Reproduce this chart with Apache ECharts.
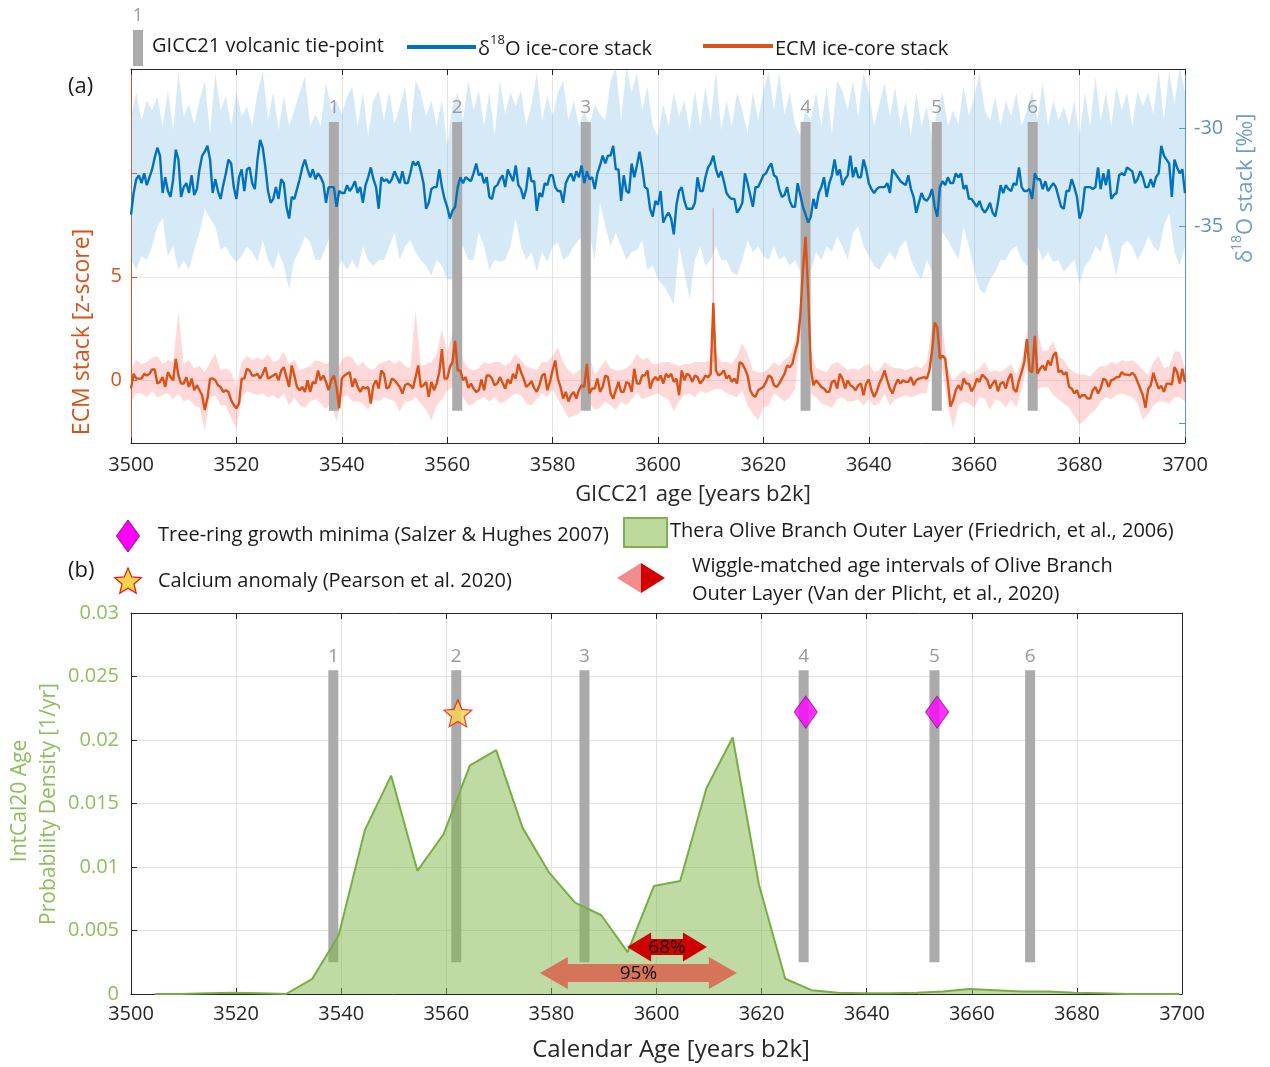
<!DOCTYPE html>
<html>
<head>
<meta charset="utf-8">
<script src="https://cdn.jsdelivr.net/npm/echarts@6/dist/echarts.min.js"></script>
<style>
  html, body { margin: 0; padding: 0; background: #fff; }
  #chart { width: 1270px; height: 1067px; }
</style>
</head>
<body>
<div id="chart"></div>
<script>
// ---------------------------------------------------------------------------
// Data
// ---------------------------------------------------------------------------
const FONT = "'Open Sans', 'Noto Sans', 'DejaVu Sans', sans-serif";

// Ice-core stacks, half-year steps from 3500 to 3700 years b2k
const d18oStack = [
  -34.4, -33.3, -32.6, -32.4, -32.8, -32.3, -32.9, -32.5, -32.1, -31.5,
  -31.0, -31.4, -33.3, -32.5, -33.2, -33.5, -32.6, -31.1, -31.6, -33.5,
  -33.0, -32.8, -33.3, -32.4, -33.4, -33.1, -32.1, -31.4, -31.2, -30.9,
  -31.6, -33.3, -32.6, -33.2, -33.6, -32.9, -32.3, -31.6, -31.8, -33.0,
  -33.6, -32.5, -32.1, -33.2, -32.1, -32.0, -32.8, -33.1, -31.6, -30.6,
  -31.0, -32.0, -33.2, -33.8, -33.6, -33.0, -33.6, -32.6, -32.8, -34.0,
  -34.6, -33.5, -33.6, -33.1, -32.6, -32.0, -31.6, -32.1, -32.5, -32.1,
  -32.6, -32.3, -32.5, -32.8, -33.8, -33.0, -33.0, -33.0, -34.0, -33.2,
  -33.3,
  -33.3, -32.9, -33.2, -33.0, -32.7, -33.3, -33.0, -33.8, -32.9, -32.5,
  -32.0, -32.6, -33.0, -34.1, -32.5, -32.7, -32.6, -32.8, -32.6, -32.2,
  -32.5, -32.8, -32.2, -32.8, -32.8, -32.3, -31.7, -31.9, -31.7, -32.2,
  -32.8, -34.1, -33.8, -33.1, -33.0, -33.0, -32.1, -33.0, -33.6, -34.0,
  -34.6, -34.2, -34.0, -33.0, -32.5, -32.8, -32.5, -32.6, -32.7, -32.3,
  -31.8, -32.4, -32.3, -32.8, -32.5, -33.5, -33.6, -33.0, -32.9, -32.6,
  -32.4, -33.0, -32.1, -32.4, -32.7, -31.9, -32.9, -33.1, -33.6, -33.1,
  -32.0, -32.7, -32.7, -34.2, -33.3, -33.5, -32.8, -32.9, -32.4, -32.4,
  -33.0, -33.2, -33.2, -33.8, -32.8, -32.5, -32.3, -32.7, -32.2, -32.5,
  -31.9, -32.8, -32.2, -32.6, -32.5, -33.1, -32.3, -31.9, -31.4, -31.8,
  -31.4, -31.4, -30.9, -32.1, -32.1, -33.7, -32.4, -33.2, -33.3, -31.8,
  -32.5, -31.9, -31.2, -32.0, -33.0, -33.1, -34.1, -34.5, -33.7, -33.9,
  -33.2, -34.8, -34.5, -34.3, -34.6, -35.4, -33.9, -33.2, -33.0, -33.7,
  -34.1, -34.1, -34.1, -33.8, -32.5, -33.2, -33.2, -32.5, -32.0, -31.8,
  -31.4, -32.1, -32.5, -32.2, -32.7, -33.3, -33.5, -33.6, -33.6, -34.3,
  -34.1, -33.8, -32.3, -32.8, -33.4, -34.0, -33.0, -33.0, -32.7, -32.4,
  -32.3, -32.0, -31.8, -32.4, -32.5, -33.1, -33.5, -33.4, -33.0, -33.7,
  -34.0, -34.0, -32.8, -33.4, -34.0, -34.4, -34.8, -34.5, -33.6, -34.1,
  -33.3, -33.0, -32.5, -33.5, -32.8, -32.4, -31.6, -32.4, -32.1, -32.9,
  -32.6, -32.4, -31.4, -32.5, -32.0, -32.5, -32.5, -31.6, -32.1, -32.8,
  -33.1, -33.3, -33.1, -33.0, -33.0, -33.0, -32.8, -33.3, -32.1, -32.3,
  -32.5, -32.7, -32.8, -32.9, -32.4, -33.1, -33.5, -34.3, -33.8, -33.3,
  -33.6, -33.7, -33.5, -33.1, -34.0, -34.5, -33.0, -32.7, -32.9, -32.5,
  -32.8, -32.8, -32.3, -32.5, -32.3, -33.1, -32.9, -33.6, -33.6, -33.8,
  -34.0, -33.7, -34.1, -34.3, -34.1, -33.8, -34.3, -34.5, -33.8, -32.9,
  -33.3, -32.9, -33.1, -33.2, -32.8, -32.9, -32.0, -33.0, -33.2, -33.2,
  -33.1, -33.6, -32.3, -32.6, -32.6, -33.1, -32.7, -33.2, -33.0, -32.8,
  -33.0, -33.5, -34.0, -34.1, -33.2, -33.2, -32.6, -33.0, -33.5, -34.6,
  -34.2, -33.0, -33.0, -33.0, -33.1, -33.0, -32.0, -33.1, -32.3, -32.9,
  -32.1, -33.6, -33.4, -33.3, -32.4, -32.3, -32.4, -32.0, -32.1, -32.2,
  -32.8, -32.6, -32.2, -32.5, -33.0, -33.0, -32.6, -33.0, -32.5, -32.3,
  -30.9, -31.4, -31.6, -31.8, -33.5, -31.6, -32.0, -32.3, -32.1, -33.3
];

const ecmStack = [
  -0.38, 0.33, 0.1, 0.1, 0.1, 0.33, 0.25, 0.33, 0.54, 0.54,
  -0.14, -0.06, 0.17, -0.3, 0.41, 0.17, 0.02, 1.05, 0.25, -0.14,
  -0.14, 0.17, -0.3, 0.1, -0.46, -0.22, -0.46, -0.7, -1.41, -0.86,
  0.1, 0.1, 0.02, -0.22, -0.3, -0.54, -0.46, -0.54, -0.94, -1.17,
  -1.33, -1.1, 0.1, 0.1, 0.57, 0.49, 0.25, 0.25, 0.33, 0.1,
  0.33, 0.65, 0.1, 0.17, 0.25, 0.33, 0.02, 0.49, 0.65, 0.17,
  -0.3, 0.73, 0.25, -0.3, -0.46, -0.3, -0.54, 0.02, -0.54, -0.06,
  -0.14, 0.49, 0.02, 0.25, -0.06, -0.46, 0.02, 0.25, -0.3, -1.33,
  0.1,
  0.25, 0.33, 0.41, -0.3, 0.1, -0.3, -0.54, -0.3, -0.38, -0.3,
  -1.1, -0.22, 0.02, -0.38, 0.49, 0.33, -0.38, -0.3, 0.1, 0.02,
  -0.14, -0.3, -0.62, -0.22, -0.14, -0.22, -0.38, 0.17, 0.73, -0.3,
  -0.22, -0.06, -0.78, -0.06, -0.46, -0.14, 0.41, 1.52, 0.1, 0.1,
  0.65, 0.89, 1.92, 0.49, 0.49, 0.02, 0.17, -0.35, -0.14, -0.38,
  -0.54, -0.46, 0.06, -0.46, 0.25, 0.25, 0.1, -0.22, -0.14, 0.17,
  -0.1, -0.38, 0.06, -0.14, 0.33, 0.1, 0.81, 0.41, 0.1, -0.3,
  -0.19, -0.03, -0.35, -0.54, -0.22, 0.25, 0.33, -0.46, -0.06, 0.5,
  0.97, 0.1, -0.3, -0.86, -0.54, -1.0, -0.7, -0.54, -0.86, -0.46,
  -0.22, -0.3, 0.81, -0.62, -0.38, -0.38, 0.1, -0.54, -0.3, 0.25,
  0.17, -0.62, -0.86, -0.46, -0.06, -0.54, -0.54, -0.06, -0.14, -0.54,
  0.57, -0.14, -0.14, 0.25, 0.25, 0.49, -0.38, 0.02, 0.17, 0.02,
  0.25, -0.14, 0.33, 0.17, 0.33, -0.06, 0.1, -0.7, 0.49, 0.02,
  0.33, 0.25, -0.06, 0.25, 0.17, -0.14, 0.02, 0.25, 0.17, 0.33,
  3.75, 0.49, 0.25, 0.33, 0.49, 0.1, 0.25, -0.06, 0.1, -0.14,
  0.89, 0.81, 0.57, 0.25, -0.46, -0.7, -0.78, -0.46, -0.38, -0.3,
  -0.06, 0.25, 0.17, -0.22, -0.3, -0.14, 0.1, 0.33, 0.73, 0.65,
  0.81, 1.37, 1.84, 3.11, 5.33, 6.92, 4.22, 0.57, -0.22, 0.02,
  -0.14, -0.3, -0.38, -0.54, -0.54, -0.06, 0.02, -0.38, 0.33, 0.1,
  -0.38, 0.02, -0.22, -0.3, -0.46, -0.22, -0.14, -0.7, -0.14, 0.06,
  -0.46, -0.78, -0.54, -0.14, 0.13, 0.49, 0.02, -0.38, -0.62, -0.22,
  0.06, -0.14, 0.02, -0.06, -0.06, 0.17, -0.22, 0.02, 0.1, 0.13,
  0.17, 0.1, 0.49, 1.44, 2.79, 2.56, 1.05, 1.21, 1.05, -0.06,
  -1.25, -0.94, -0.46, -0.22, -0.46, 0.1, -0.14, -0.14, -0.51, -0.3,
  0.1, -0.06, 0.29, 0.17, 0.02, -0.38, -0.14, 0.02, -0.51, -0.14,
  -0.06, -0.38, 0.1, 0.33, -0.41, -0.54, 0.02, 0.41, 0.89, 2.0,
  0.49, 0.41, 2.16, 0.33, 0.57, 0.73, 0.49, 0.97, 0.73, 1.21,
  1.37, 0.41, 0.49, 0.29, 0.41, -0.3, -0.38, -0.62, -0.46, -0.83,
  -0.7, -0.7, -0.86, -0.86, -0.46, -0.3, -0.62, -0.38, 0.1, 0.02,
  -0.3, 0.02, 0.06, 0.17, 0.17, 0.41, 0.29, 0.29, 0.25, 0.38,
  0.25, -0.06, -0.38, -0.7, -1.3, -0.41, -0.22, 0.38, -0.03, -0.38,
  -0.25, -0.54, -0.14, -0.14, -0.19, 0.65, 0.41, -0.14, 0.57, -0.06
];

// Uncertainty envelopes, one value per year from 3500 to 3700
const d18oBandHigh = [
  -29.4, -28.2, -29.6, -28.6, -29.1, -28.4, -29.9, -28.1, -30.1, -27.2,
  -29.4, -28.8, -29.8, -28.6, -27.6, -30.3, -27.2, -29.1, -28.4, -29.9,
  -28.2, -29.4, -28.9, -29.9, -28.2, -27.1, -29.6, -28.2, -30.1, -28.4,
  -29.9, -29.1, -28.2, -27.4, -29.9, -29.3, -29.9, -27.7, -29.1, -28.6,
  -29.3,
  -28.4, -27.9, -29.9, -28.2, -30.4, -28.6, -28.1, -29.6, -28.2, -29.8,
  -28.9, -27.9, -30.3, -27.6, -28.2, -29.4, -28.6, -29.9, -28.6, -30.9,
  -28.9, -28.2, -29.6, -27.6, -29.1, -28.1, -29.9, -28.2, -30.4, -27.6,
  -29.3, -28.2, -28.9, -28.1, -29.9, -28.8, -27.2, -29.6, -28.4, -29.4,
  -28.2, -27.6, -29.6, -28.6, -29.9, -29.1, -29.9, -28.8, -29.3, -29.6,
  -27.6, -26.9, -29.6, -26.9, -28.2, -27.2, -29.1, -27.9, -29.9, -30.4,
  -28.8, -29.9, -28.2, -29.4, -28.6, -30.1, -28.1, -29.9, -27.9, -29.6,
  -27.1, -30.1, -28.6, -29.9, -28.2, -29.1, -30.3, -28.2, -29.6, -28.1,
  -27.1, -29.1, -27.2, -29.3, -28.2, -29.8, -30.4, -29.1, -29.6, -28.2,
  -29.9, -27.9, -30.3, -27.6, -28.1, -29.1, -27.6, -29.4, -27.2, -28.2,
  -29.9, -28.8, -27.7, -29.4, -27.9, -29.9, -28.6, -30.4, -28.2, -29.9,
  -28.9, -30.6, -29.1, -28.2, -29.9, -29.1, -29.8, -27.9, -29.4, -28.4,
  -27.2, -29.1, -29.6, -28.4, -29.9, -28.6, -29.4, -28.2, -29.9, -29.1,
  -28.1, -29.6, -27.7, -29.9, -28.6, -29.6, -28.9, -29.9, -28.6, -30.4,
  -28.2, -29.9, -27.4, -29.6, -28.2, -29.9, -27.9, -29.1, -28.2, -29.9,
  -28.1, -28.9, -28.2, -29.3, -27.1, -29.6, -27.1, -28.8, -26.9, -28.2
];
const d18oBandLow = [
  -36.7, -37.2, -36.5, -36.7, -36.0, -35.0, -34.6, -36.5, -36.0, -37.2,
  -36.7, -37.2, -36.2, -35.3, -34.1, -34.6, -35.0, -36.2, -36.0, -36.5,
  -36.8, -36.5, -36.0, -36.3, -36.8, -35.7, -36.7, -37.2, -36.3, -37.0,
  -38.2, -36.7, -36.2, -35.5, -35.8, -36.7, -36.7, -36.0, -35.3, -37.3,
  -36.7,
  -37.2, -36.7, -37.2, -36.0, -36.7, -37.0, -36.7, -36.7, -36.0, -35.3,
  -36.7, -36.0, -35.7, -36.3, -36.7, -37.0, -37.5, -36.7, -37.0, -37.7,
  -37.7, -36.3, -36.0, -36.7, -36.7, -35.3, -36.0, -37.2, -36.7, -36.8,
  -36.7, -36.0, -34.6, -36.0, -36.7, -36.3, -37.3, -36.3, -36.8, -36.0,
  -35.8, -36.7, -36.5, -36.0, -35.7, -35.3, -35.3, -36.7, -33.8, -35.0,
  -36.0, -35.3, -36.0, -36.7, -36.3, -36.2, -35.7, -37.2, -37.0, -37.7,
  -38.0, -38.4, -39.0, -36.0, -37.3, -38.7, -36.7, -36.0, -37.0, -36.7,
  -36.0, -36.7, -36.7, -37.3, -37.5, -36.7, -35.7, -36.3, -36.0, -36.5,
  -36.7, -36.0, -36.7, -36.5, -37.0, -36.7, -37.3, -37.7, -37.3, -36.3,
  -36.7, -36.0, -36.3, -35.5, -36.0, -36.7, -35.3, -35.0, -36.0, -36.5,
  -37.0, -37.2, -36.7, -36.3, -36.7, -36.0, -35.7, -36.7, -37.3, -37.7,
  -36.7, -37.3, -36.3, -35.3, -35.7, -36.2, -36.7, -35.0, -36.0, -37.2,
  -38.2, -38.4, -37.7, -37.3, -36.7, -36.7, -36.2, -36.0, -36.7, -37.0,
  -36.7, -36.0, -36.7, -36.3, -36.8, -36.7, -37.3, -37.0, -36.7, -37.9,
  -37.0, -36.7, -36.0, -36.3, -35.3, -36.3, -37.5, -36.0, -35.7, -36.0,
  -36.7, -36.2, -35.5, -36.0, -36.3, -35.0, -34.3, -36.3, -37.0, -36.0
];
const ecmBandHigh = [
  0.6, 1.0, 0.8, 0.9, 1.1, 1.2, 0.8, 1.0, 0.9, 3.3,
  0.8, 1.0, 0.6, 0.7, 0.4, 0.9, 1.3, 0.5, 0.6, 0.4,
  -0.3, 0.9, 1.2, 1.0, 1.1, 1.0, 1.3, 0.9, 1.0, 1.4,
  0.8, 1.0, 0.5, 0.6, 0.7, 1.0, 0.9, 0.8, 0.9, 0.5,
  1.0,
  1.2, 1.1, 0.7, 0.9, 0.6, 0.5, 0.8, 0.9, 1.0, 0.8,
  1.0, 0.7, 0.6, 3.4, 0.7, 0.8, 0.9, 1.3, 2.5, 1.4,
  2.3, 1.8, 1.0, 0.6, 0.5, 0.6, 0.9, 0.8, 0.9, 0.9,
  0.7, 0.9, 1.3, 1.0, 0.7, 0.6, 0.5, 0.9, 0.9, 1.2,
  1.6, 0.9, 0.5, 0.3, 0.5, 0.6, 1.2, 0.3, 0.6, 1.0,
  0.6, 0.5, 0.5, 0.6, 0.8, 1.3, 1.0, 1.1, 0.8, 0.8,
  0.9, 0.9, 0.8, 0.7, 0.8, 0.8, 0.9, 0.9, 0.9, 1.0,
  1.3, 0.9, 0.9, 0.8, 1.2, 1.8, 1.3, 0.5, 0.4, 0.4,
  0.6, 0.9, 0.7, 1.0, 1.2, 1.9, 3.5, 7.3, 1.5, 0.6,
  0.5, 0.4, 0.8, 0.9, 0.7, 0.5, 0.6, 0.5, 0.7, 0.8,
  0.4, 0.5, 0.9, 0.7, 0.6, 0.6, 0.5, 0.6, 0.7, 0.6,
  0.9, 2.6, 3.1, 2.5, 0.6, 0.0, 0.3, 0.5, 0.3, 0.4,
  0.6, 0.9, 0.4, 0.5, 0.4, 0.6, 0.8, 0.3, 0.9, 2.3,
  2.9, 2.4, 1.4, 1.5, 1.9, 1.2, 1.0, 0.6, 0.4, 0.3,
  0.3, 0.2, 0.5, 0.7, 0.7, 0.9, 0.8, 1.0, 0.9, 1.0,
  0.8, 0.5, 0.3, 0.9, 1.2, 0.6, 0.7, 1.4, 1.4, 0.6
];
const ecmBandLow = [
  -1.0, -0.6, -0.6, -0.8, -0.5, -0.8, -0.7, -0.6, -0.9, -0.6,
  -1.0, -0.9, -1.2, -1.3, -2.4, -0.8, -0.7, -1.2, -1.2, -1.8,
  -2.3, -0.8, -0.5, -0.6, -0.7, -0.6, -0.8, -0.7, -0.9, -0.6,
  -1.2, -0.8, -1.2, -1.3, -1.0, -0.9, -1.1, -1.4, -1.0, -2.0,
  -0.8,
  -0.7, -1.0, -1.0, -1.1, -1.4, -0.9, -1.0, -0.8, -0.9, -1.0,
  -1.5, -1.0, -1.0, -0.8, -1.1, -1.4, -1.9, -1.2, -0.9, -0.5,
  -0.3, -0.5, -0.8, -1.2, -1.1, -0.9, -0.8, -1.0, -0.8, -1.1,
  -1.0, -0.8, -0.6, -0.7, -1.1, -1.2, -0.9, -0.6, -0.8, -0.4,
  -0.9, -1.3, -1.8, -1.7, -1.6, -1.2, -1.1, -1.4, -1.3, -1.0,
  -1.2, -1.4, -1.0, -1.2, -0.9, -0.6, -0.9, -0.8, -0.7, -0.6,
  -0.8, -0.9, -1.5, -1.0, -0.7, -0.6, -0.8, -0.5, -0.6, -0.5,
  -0.4, -0.4, -0.6, -0.7, -0.8, -0.5, -1.2, -1.6, -1.9, -1.3,
  -1.2, -0.6, -0.8, -1.0, -0.8, -0.4, 2.0, 4.5, -0.6, -0.8,
  -1.1, -1.2, -1.3, -0.9, -0.8, -1.0, -1.0, -0.9, -1.2, -0.9,
  -1.2, -1.1, -0.6, -1.2, -0.9, -0.8, -0.7, -0.8, -0.7, -0.6,
  -0.6, 0.9, 1.6, 0.4, -1.2, -2.3, -1.2, -1.0, -1.1, -1.3,
  -0.8, -0.9, -1.4, -0.9, -1.0, -1.3, -0.9, -1.3, -0.4, 0.7,
  -0.2, -0.4, -0.3, -0.3, -0.7, -0.9, -1.1, -1.3, -1.7, -2.1,
  -1.9, -1.6, -1.4, -1.0, -0.8, -0.9, -0.7, -0.6, -0.7, -0.8,
  -1.1, -1.9, -1.6, -1.2, -1.0, -1.0, -1.1, -0.8, -0.8, -1.0
];
// Narrow single-sample excursion of the ECM envelope
const ecmSpikeAge = 3610.5;
const ecmSpikeRange = [0.9, 8.3];

// GICC21 volcanic tie-points
const tieAges = [3538.5, 3561.9, 3586.3, 3628.0, 3652.9, 3671.1];
const tieLabels = ['1', '2', '3', '4', '5', '6'];

// IntCal20 age probability density of the olive branch outer layer
const densityAges = [
  3504.5, 3509.5, 3514.5, 3519.5, 3524.5, 3529.5, 3534.5, 3539.5, 3544.5, 3549.5,
  3554.5, 3559.5, 3564.5, 3569.5, 3574.5, 3579.5, 3584.5, 3589.5, 3594.5, 3599.5,
  3604.5, 3609.5, 3614.5, 3619.5, 3624.5, 3629.5, 3634.5, 3639.5, 3644.5, 3649.5,
  3654.5, 3659.5, 3664.5, 3669.5, 3674.5, 3679.5, 3684.5, 3689.5, 3694.5, 3699.5
];
const densityValues = [
  0, 0, 0.00005, 0.0001, 0.00005, 0, 0.0012, 0.0046, 0.0129, 0.0172,
  0.0097, 0.0126, 0.018, 0.0192, 0.0131, 0.0096, 0.0072, 0.0062, 0.0033, 0.0085,
  0.0089, 0.0162, 0.0202, 0.0086, 0.0012, 0.0003, 0.0001, 0.00005, 0.00005, 0.0001,
  0.0002, 0.0004, 0.0003, 0.0002, 0.0002, 0.0001, 0.00005, 0, 0, 0
];

// Independent age markers
const treeRingAges = [3628.4, 3653.4];
const treeRingLevel = 0.0222;
const calciumAge = 3562.2;
const calciumLevel = 0.0221;

// Wiggle-matched age intervals [from, to, plotting level]
const interval95 = [3577.8, 3615.3, 0.00165];
const interval68 = [3594.4, 3609.6, 0.0037];

// Tick labels shown on the axes
const ecmTickLabels = [0, 5];
const d18oTickLabels = [-35, -30];

// ---------------------------------------------------------------------------
// Helpers
// ---------------------------------------------------------------------------
const halfYearAges = [];
for (let i = 0; i < d18oStack.length; i++) halfYearAges.push(3500 + i * 0.5);
const yearAges = [];
for (let i = 0; i < d18oBandHigh.length; i++) yearAges.push(3500 + i);

const pairs = (xs, ys) => xs.map((x, i) => [x, ys[i]]);

function bandSeries(xIdx, yIdx, ages, low, high, fill) {
  return {
    type: 'custom', xAxisIndex: xIdx, yAxisIndex: yIdx, z: 1, silent: true,
    data: [[ages[0], low[0]]],
    renderItem: (params, api) => {
      const pts = [];
      for (let i = 0; i < ages.length; i++) pts.push(api.coord([ages[i], high[i]]));
      for (let i = ages.length - 1; i >= 0; i--) pts.push(api.coord([ages[i], low[i]]));
      const cs = params.coordSys;
      return {
        type: 'polygon', shape: { points: pts }, style: { fill: fill },
        clipPath: { type: 'rect', shape: { x: cs.x, y: cs.y, width: cs.width, height: cs.height } }
      };
    }
  };
}

function tieBarSeries(xIdx, yIdx, top, bottom, fill, labelGap, z) {
  return {
    type: 'custom', xAxisIndex: xIdx, yAxisIndex: yIdx, z: z, silent: true,
    data: tieAges.map(a => [a, top]),
    renderItem: (params, api) => {
      const pTop = api.coord([api.value(0), top]);
      const pBot = api.coord([api.value(0), bottom]);
      return {
        type: 'group',
        children: [
          { type: 'rect', shape: { x: pTop[0] - 5, y: pTop[1], width: 10, height: pBot[1] - pTop[1] },
            style: { fill: fill } },
          { type: 'text', x: pTop[0], y: pTop[1] - labelGap,
            style: { text: tieLabels[params.dataIndex], fill: '#9a9a9a', fontSize: 19, fontFamily: FONT,
                     align: 'center', verticalAlign: 'middle' } }
        ]
      };
    }
  };
}

function arrowSeries(range, fill, label, headLen, headHalf, shaftHalf) {
  return {
    type: 'custom', xAxisIndex: 2, yAxisIndex: 2, z: 4, silent: true,
    data: [range],
    renderItem: (params, api) => {
      const a = api.coord([api.value(0), api.value(2)]);
      const b = api.coord([api.value(1), api.value(2)]);
      const y = a[1];
      const pts = [
        [a[0], y], [a[0] + headLen, y - headHalf], [a[0] + headLen, y - shaftHalf],
        [b[0] - headLen, y - shaftHalf], [b[0] - headLen, y - headHalf], [b[0], y],
        [b[0] - headLen, y + headHalf], [b[0] - headLen, y + shaftHalf],
        [a[0] + headLen, y + shaftHalf], [a[0] + headLen, y + headHalf]
      ];
      return {
        type: 'group',
        children: [
          { type: 'polygon', shape: { points: pts }, style: { fill: fill } },
          { type: 'text', x: (a[0] + b[0]) / 2, y: y + 1,
            style: { text: label, fill: '#111', fontSize: 19, fontFamily: FONT,
                     align: 'center', verticalAlign: 'middle' } }
        ]
      };
    }
  };
}

function starPoints(cx, cy, R, r) {
  const pts = [];
  for (let i = 0; i < 10; i++) {
    const ang = -Math.PI / 2 + i * Math.PI / 5;
    const rad = i % 2 === 0 ? R : r;
    pts.push([cx + rad * Math.cos(ang), cy + rad * Math.sin(ang)]);
  }
  return pts;
}

const STAR_PATH = 'path://M0,-10L2.65,-3.64L9.51,-3.09L4.28,1.39L5.88,8.09L0,4.5L-5.88,8.09L-4.28,1.39L-9.51,-3.09L-2.65,-3.64Z';

const DARK = '#262626';
const ORANGE = '#d95319';
const BLUE = '#0072bd';
const STEEL = '#5b93c4';
const GREEN_TXT = '#8cbf5a';

function txt(x, y, text, size, color, align) {
  return {
    type: 'text', x: x, y: y,
    style: { text: text, fontSize: size, fontFamily: FONT, fill: color || '#1a1a1a',
             align: align || 'left', verticalAlign: 'middle' }
  };
}

// ---------------------------------------------------------------------------
// Chart
// ---------------------------------------------------------------------------
const chart = echarts.init(document.getElementById('chart'), null, { renderer: 'canvas' });

const xBase = {
  type: 'value', min: 3500, max: 3700, interval: 20,
  axisLine: { show: true, onZero: false, lineStyle: { color: DARK, width: 1 } },
  axisTick: { show: true, inside: true, length: 6, lineStyle: { color: DARK } },
  splitLine: { show: false }
};
const yearLabel = v => String(v);

const option = {
  animation: false,
  backgroundColor: '#ffffff',
  textStyle: { fontFamily: FONT },
  grid: [
    { left: 131, right: 85, top: 69, height: 374 },
    { left: 131, right: 88, top: 613, height: 381 }
  ],
  xAxis: [
    Object.assign({}, xBase, {
      gridIndex: 0, position: 'bottom',
      axisLabel: { color: DARK, fontSize: 20, margin: 12, fontFamily: FONT, formatter: yearLabel },
      splitLine: { show: true, lineStyle: { color: '#e4e4e4', width: 1 } }
    }),
    Object.assign({}, xBase, { gridIndex: 0, position: 'top', axisLabel: { show: false } }),
    Object.assign({}, xBase, {
      gridIndex: 1, position: 'bottom',
      axisLabel: { color: DARK, fontSize: 20, margin: 10, fontFamily: FONT, formatter: yearLabel },
      splitLine: { show: true, lineStyle: { color: '#e2e2e2', width: 1 } }
    }),
    Object.assign({}, xBase, { gridIndex: 1, position: 'top', axisLabel: { show: false } })
  ],
  yAxis: [
    {
      gridIndex: 0, type: 'value', min: -3, max: 15, position: 'left',
      axisLine: { show: true, onZero: false, lineStyle: { color: ORANGE, width: 1 } },
      axisTick: { show: true, inside: true, length: 6, lineStyle: { color: ORANGE }, customValues: [0, 5, 10] },
      axisLabel: { color: ORANGE, fontSize: 20, margin: 9, fontFamily: FONT, customValues: ecmTickLabels },
      splitLine: { show: true, lineStyle: { color: 'rgba(215,150,135,0.28)', width: 1 } }
    },
    {
      gridIndex: 0, type: 'value', min: -46, max: -27, position: 'right',
      axisLine: { show: true, onZero: false, lineStyle: { color: STEEL, width: 1 } },
      axisTick: { show: true, inside: true, length: 6, lineStyle: { color: STEEL }, customValues: [-45, -35, -30] },
      axisLabel: { color: STEEL, fontSize: 20, margin: 9, fontFamily: FONT, customValues: d18oTickLabels },
      splitLine: { show: false }
    },
    {
      gridIndex: 1, type: 'value', min: 0, max: 0.03, interval: 0.005, position: 'left',
      axisLine: { show: true, onZero: false, lineStyle: { color: DARK, width: 1 } },
      axisTick: { show: true, inside: true, length: 6, lineStyle: { color: DARK } },
      axisLabel: { color: GREEN_TXT, fontSize: 20, margin: 12, fontFamily: FONT,
                   formatter: v => String(+v.toFixed(3)) },
      splitLine: { show: true, lineStyle: { color: '#e2e2e2', width: 1 } }
    },
    {
      gridIndex: 1, type: 'value', min: 0, max: 0.03, position: 'right',
      axisLine: { show: true, onZero: false, lineStyle: { color: DARK, width: 1 } },
      axisTick: { show: false }, axisLabel: { show: false }, splitLine: { show: false }
    }
  ],
  series: [
    // ---- panel (a)
    bandSeries(0, 1, yearAges, d18oBandLow, d18oBandHigh, 'rgba(91,168,224,0.25)'),
    bandSeries(0, 0, yearAges, ecmBandLow, ecmBandHigh, 'rgba(255,110,110,0.26)'),
    {
      type: 'line', xAxisIndex: 0, yAxisIndex: 0, z: 1, silent: true, symbol: 'none',
      data: [[ecmSpikeAge, ecmSpikeRange[0]], [ecmSpikeAge, ecmSpikeRange[1]]],
      lineStyle: { color: 'rgba(255,110,110,0.5)', width: 1.3 }
    },
    tieBarSeries(0, 0, 12.45, -1.45, '#ababab', 14, 2),
    {
      type: 'line', name: 'δ18O ice-core stack', xAxisIndex: 0, yAxisIndex: 1, z: 3,
      silent: true, symbol: 'none', data: pairs(halfYearAges, d18oStack),
      lineStyle: { color: BLUE, width: 2.4 }
    },
    {
      type: 'line', name: 'ECM ice-core stack', xAxisIndex: 0, yAxisIndex: 0, z: 3,
      silent: true, symbol: 'none', data: pairs(halfYearAges, ecmStack),
      lineStyle: { color: ORANGE, width: 2.4 }
    },
    // ---- panel (b)
    tieBarSeries(2, 2, 0.0255, 0.0025, '#ababab', 14, 1),
    {
      type: 'line', name: 'Thera Olive Branch Outer Layer', xAxisIndex: 2, yAxisIndex: 2, z: 2,
      silent: true, symbol: 'none', data: pairs(densityAges, densityValues),
      lineStyle: { color: '#77ae44', width: 2 },
      areaStyle: { color: 'rgba(128,184,72,0.5)', opacity: 1 }
    },
    {
      type: 'scatter', xAxisIndex: 2, yAxisIndex: 2, z: 5, silent: true,
      data: [[calciumAge, calciumLevel]], symbol: STAR_PATH, symbolSize: [28, 27],
      itemStyle: { color: '#ffd54a', borderColor: '#f01010', borderWidth: 1.2 }
    },
    {
      type: 'scatter', xAxisIndex: 2, yAxisIndex: 2, z: 5, silent: true,
      data: treeRingAges.map(a => [a, treeRingLevel]), symbol: 'diamond', symbolSize: [23, 32],
      itemStyle: { color: '#ff00ff', borderColor: '#a000a0', borderWidth: 1 }
    },
    arrowSeries(interval95, '#d6745a', '95%', 28, 16, 9),
    arrowSeries(interval68, '#d00000', '68%', 24, 14.5, 8)
  ],
  graphic: [
    // panel (a) legend
    txt(138, 16, '1', 18, '#9a9a9a', 'center'),
    { type: 'rect', shape: { x: 133, y: 30, width: 10, height: 36 }, style: { fill: '#ababab' } },
    txt(152, 46, 'GICC21 volcanic tie-point', 20),
    { type: 'line', shape: { x1: 407, y1: 47, x2: 476, y2: 47 }, style: { stroke: BLUE, lineWidth: 4 } },
    txt(478, 49, 'δ', 20),
    txt(490, 40, '18', 13),
    txt(505, 49, 'O ice-core stack', 20),
    { type: 'line', shape: { x1: 703, y1: 46, x2: 773, y2: 46 }, style: { stroke: ORANGE, lineWidth: 4 } },
    txt(775, 49, 'ECM ice-core stack', 20),
    txt(68, 87, '(a)', 22),
    // panel (a) axis titles
    txt(693, 495, 'GICC21 age [years b2k]', 22, DARK, 'center'),
    { type: 'text', x: 82, y: 332, rotation: Math.PI / 2,
      style: { text: 'ECM stack [z-score]', fontSize: 23, fontFamily: FONT, fill: ORANGE, align: 'center', verticalAlign: 'middle' } },
    { type: 'group', x: 1246, y: 195, rotation: Math.PI / 2,
      children: [
        { type: 'text', x: -68, y: 0, style: { text: 'δ', fontSize: 22, fontFamily: FONT, fill: '#6c9fcb', align: 'left', verticalAlign: 'middle' } },
        { type: 'text', x: -56, y: -9, style: { text: '18', fontSize: 14, fontFamily: FONT, fill: '#6c9fcb', align: 'left', verticalAlign: 'middle' } },
        { type: 'text', x: -40, y: 0, style: { text: 'O stack [‰]', fontSize: 22, fontFamily: FONT, fill: '#6c9fcb', align: 'left', verticalAlign: 'middle' } }
      ] },
    // panel (b) legend
    { type: 'polygon', shape: { points: [[128, 520], [139.5, 536], [128, 552], [116.5, 536]] },
      style: { fill: '#ff00ff', stroke: '#a000a0', lineWidth: 1 } },
    txt(158, 535, 'Tree-ring growth minima (Salzer & Hughes 2007)', 20),
    { type: 'rect', shape: { x: 624, y: 518, width: 43, height: 29 },
      style: { fill: '#bdd99c', stroke: '#7db24f', lineWidth: 2 } },
    txt(670, 531, 'Thera Olive Branch Outer Layer (Friedrich, et al., 2006)', 20),
    { type: 'polygon', shape: { points: starPoints(128, 582, 14, 6.3) },
      style: { fill: '#ffd54a', stroke: '#f01010', lineWidth: 1.2 } },
    txt(158, 581, 'Calcium anomaly (Pearson et al. 2020)', 20),
    { type: 'polygon', shape: { points: [[617, 578], [641, 563], [641, 593]] }, style: { fill: '#f08c8c' } },
    { type: 'polygon', shape: { points: [[641, 563], [665, 578], [641, 593]] }, style: { fill: '#d40000' } },
    txt(692, 566, 'Wiggle-matched age intervals of Olive Branch', 20),
    txt(692, 594, 'Outer Layer (Van der Plicht, et al., 2020)', 20),
    txt(68, 571, '(b)', 22),
    // panel (b) axis titles
    { type: 'text', x: 20, y: 801, rotation: Math.PI / 2,
      style: { text: 'IntCal20 Age', fontSize: 21, fontFamily: FONT, fill: GREEN_TXT, align: 'center', verticalAlign: 'middle' } },
    { type: 'text', x: 49, y: 804, rotation: Math.PI / 2,
      style: { text: 'Probability Density [1/yr]', fontSize: 21, fontFamily: FONT, fill: GREEN_TXT, align: 'center', verticalAlign: 'middle' } },
    txt(671, 1050, 'Calendar Age [years b2k]', 24, DARK, 'center')
  ]
};

chart.setOption(option);
</script>
</body>
</html>
